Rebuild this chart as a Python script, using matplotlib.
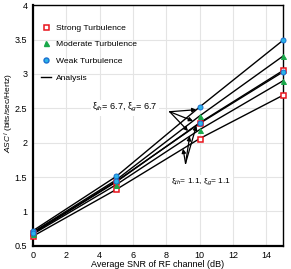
import numpy as np
import matplotlib
matplotlib.use("Agg")
import matplotlib.pyplot as plt
from matplotlib.lines import Line2D

plt.rcParams['font.family'] = ['Liberation Sans', 'DejaVu Sans']
plt.rcParams['mathtext.fontset'] = 'custom'
plt.rcParams['mathtext.rm'] = 'Liberation Sans'
plt.rcParams['mathtext.it'] = 'Liberation Sans:italic'

snr = [0, 5, 10, 15]

# xi = 6.7
weak_67 = [0.72, 1.51, 2.52, 3.49]
moderate_67 = [0.70, 1.46, 2.39, 3.26]
strong_67 = [0.68, 1.43, 2.29, 3.05]
# xi = 1.1
weak_11 = [0.69, 1.44, 2.28, 3.03]
moderate_11 = [0.67, 1.39, 2.19, 2.90]
strong_11 = [0.64, 1.32, 2.06, 2.69]

red = '#e8141c'
green = '#1aa84a'
cyan = '#2ab4e8'

fig = plt.figure(figsize=(2.91, 2.69), dpi=100)
ax = fig.add_axes([0.113, 0.086, 0.860, 0.895])

for s in [weak_67, moderate_67, strong_67, weak_11, moderate_11, strong_11]:
    ax.plot(snr, s, color='black', lw=1.0, zorder=2, clip_on=False)

for s in [strong_67, strong_11]:
    ax.plot(snr, s, ls='none', marker='s', ms=3.6, mfc='white', mec=red, mew=1.1,
            zorder=3, clip_on=False)
for s in [moderate_67, moderate_11]:
    ax.plot(snr, s, ls='none', marker='^', ms=3.6, mfc=green, mec=green, mew=0.7,
            zorder=3, clip_on=False)
for s in [weak_67, weak_11]:
    ax.plot(snr, s, ls='none', marker='o', ms=3.6, mfc=cyan, mec='#1a6fd0', mew=0.7,
            zorder=3, clip_on=False)

ax.set_xlim(0, 15)
ax.set_ylim(0.5, 4)
ax.set_xticks(np.arange(0, 15, 2))
ax.set_yticks(np.arange(0.5, 4.01, 0.5))
ax.set_yticklabels(['0.5', '1', '1.5', '2', '2.5', '3', '3.5', '4'])
ax.tick_params(labelsize=6.5, length=0, pad=4)
ax.grid(True, color='#e4e4e4', lw=0.8, zorder=0)
ax.set_axisbelow(True)
for sp in ['left', 'bottom']:
    ax.spines[sp].set_linewidth(1.6)
for sp in ['top', 'right']:
    ax.spines[sp].set_linewidth(1.0)

ax.set_xlabel('Average SNR of RF channel (dB)', fontsize=6.5, labelpad=0)
ax.set_ylabel('$ASC^I$ (bits/sec/Hertz)', fontsize=6, labelpad=0)
ax.yaxis.set_label_coords(-0.068, 0.55)

handles = [
    Line2D([], [], ls='none', marker='s', ms=3.6, mfc='white', mec=red, mew=1.1),
    Line2D([], [], ls='none', marker='^', ms=3.6, mfc=green, mec=green),
    Line2D([], [], ls='none', marker='o', ms=3.6, mfc=cyan, mec='#1a6fd0'),
    Line2D([], [], color='black', lw=1.0),
]
labels = ['Strong Turbulence', 'Moderate Turbulence', 'Weak Turbulence', 'Analysis']
ax.legend(handles, labels, loc='upper left', bbox_to_anchor=(0.0, 0.955),
          fontsize=6.1, frameon=False, handlelength=1.2, labelspacing=1.05,
          handletextpad=0.6)

# annotations
ax.text(5.5, 2.505, 'ξ$_{th}$= 6.7, ξ$_{g}$= 6.7', fontsize=6.6, ha='center',
        va='center', bbox=dict(fc='white', ec='none', pad=1))
base = (8.2, 2.45)
for s, xt in [(weak_67, 9.8), (moderate_67, 9.6), (strong_67, 9.3)]:
    ax.annotate('', xy=(xt, np.interp(xt, snr, s)), xytext=base,
                arrowprops=dict(arrowstyle='-|>', color='black', lw=0.9,
                                mutation_scale=6, shrinkA=0, shrinkB=0))

ax.text(10.1, 1.43, 'ξ$_{th}$= 1.1, ξ$_{g}$= 1.1', fontsize=6.0, ha='center',
        va='center', bbox=dict(fc='white', ec='none', pad=1))
base = (9.15, 1.70)
for s, xt in [(weak_11, 9.8), (moderate_11, 9.4), (strong_11, 9.0)]:
    ax.annotate('', xy=(xt, np.interp(xt, snr, s)), xytext=base,
                arrowprops=dict(arrowstyle='-|>', color='black', lw=0.9,
                                mutation_scale=6, shrinkA=0, shrinkB=0))

fig.savefig('out.png', dpi=100)
